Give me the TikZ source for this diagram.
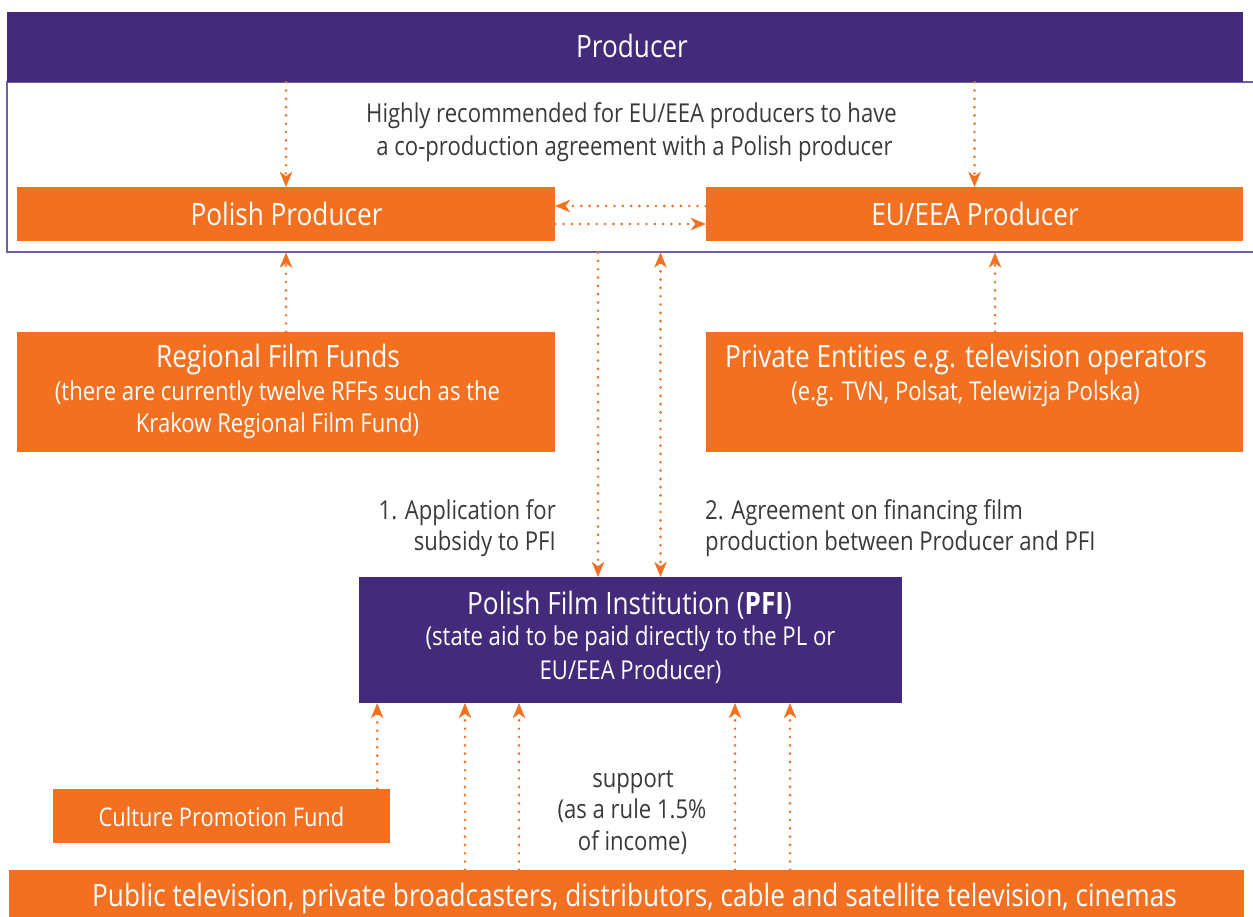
\documentclass[tikz,border=0pt]{standalone}
\usepackage{fontspec}
\setmainfont{Open Sans}[FakeStretch=0.85]
\usetikzlibrary{arrows.meta,calc}
\definecolor{pfpurple}{HTML}{432A7A}
\definecolor{pforange}{HTML}{F37021}
\definecolor{pftext}{HTML}{3A3A3A}
\definecolor{pfframe}{HTML}{6E5FA8}
\tikzset{
  obox/.style={fill=pforange, draw=none, inner sep=0pt},
  pbox/.style={fill=pfpurple, draw=none, inner sep=0pt},
  wt/.style={text=white, inner sep=0pt, anchor=base},
  dt/.style={text=pftext, inner sep=0pt, anchor=base},
  bigf/.style={font=\fontsize{30.8}{35}\selectfont},
  medf/.style={font=\fontsize{25.7}{30}\selectfont},
  smallf/.style={font=\fontsize{26}{30}\selectfont},
  flow/.style={draw=pforange, line width=2.9pt, line cap=round,
    dash pattern=on 0pt off 8.3pt},
  tipend/.style={-{Stealth[length=15pt,width=12.5pt,inset=4.5pt,line width=0.4pt]}},
  tipboth/.style={{Stealth[length=15pt,width=12.5pt,inset=4.5pt,line width=0.4pt]}-{Stealth[length=15pt,width=12.5pt,inset=4.5pt,line width=0.4pt]}}
}
\begin{document}
\begin{tikzpicture}[x=1pt,y=-1pt]
\path[use as bounding box, clip] (0,0) rectangle (1253,916);
\fill[white] (0,0) rectangle (1253,916);

% frame round the producers
\node[draw=pfframe, line width=1.3pt, inner sep=0pt, minimum width=1255pt, minimum height=170pt] (frame) at (634.5,167) {};

% boxes
\node[pbox, minimum width=1236pt, minimum height=70pt] (producer) at (625,47) {};
\node[obox, minimum width=538pt, minimum height=54pt] (polish) at (286,214) {};
\node[obox, minimum width=537pt, minimum height=54pt] (eu) at (974.5,214) {};
\node[obox, minimum width=538pt, minimum height=120pt] (rff) at (286,392) {};
\node[obox, minimum width=537pt, minimum height=120pt] (priv) at (974.5,392) {};
\node[pbox, minimum width=543pt, minimum height=126pt] (pfi) at (630.5,640) {};
\node[obox, minimum width=337pt, minimum height=54pt] (cpf) at (221.5,816) {};
\node[obox, minimum width=1235pt, minimum height=60pt] (bottom) at (626.5,900) {};

% texts
\node[wt, bigf] (tproducer) at (632,57) {Producer};
\node[dt, smallf] (trec1) at (631.5,122) {Highly recommended for EU/EEA producers to have};
\node[dt, smallf] (trec2) at (634.5,155) {a co-production agreement with a Polish producer};
\node[wt, bigf] (tpolish) at (286.5,225) {Polish Producer};
\node[wt, bigf] (teu) at (975,225) {EU/EEA Producer};
\node[wt, bigf] (trff1) at (278,367) {Regional Film Funds};
\node[wt, smallf] (trff2) at (277.5,400) {(there are currently twelve RFFs such as the};
\node[wt, smallf] (trff3) at (277.5,432) {Krakow Regional Film Fund)};
\node[wt, bigf] (tpriv1) at (966,367) {Private Entities e.g. television operators};
\node[wt, smallf] (tpriv2) at (965.5,400) {(e.g. TVN, Polsat, Telewizja Polska)};
\node[dt, smallf, anchor=base east] (tapp1) at (556,519) {1. Application for};
\node[dt, smallf, anchor=base east] (tapp2) at (556,550) {subsidy to PFI};
\node[dt, smallf, anchor=base west] (tagr1) at (705,519) {2. Agreement on financing film};
\node[dt, smallf, anchor=base west] (tagr2) at (705,550) {production between Producer and PFI};
\node[wt, bigf] (tpfi1) at (629.5,614) {Polish Film Institution (\textbf{PFI})};
\node[wt, smallf] (tpfi2) at (630.5,645) {(state aid to be paid directly to the PL or};
\node[wt, smallf] (tpfi3) at (630.5,679) {EU/EEA Producer)};
\node[wt, medf] (tcpf) at (221.5,826) {Culture Promotion Fund};
\node[dt, smallf] (tsup1) at (633,787) {support};
\node[dt, smallf] (tsup2) at (632,818) {(as a rule 1.5\%};
\node[dt, smallf] (tsup3) at (632.5,850) {of income)};
\node[wt, bigf] (tbottom) at (634.5,906) {Public television, private broadcasters, distributors, cable and satellite television, cinemas};

% connectors
\draw[flow, tipend] (producer.south -| polish.north) -- (polish.north);
\draw[flow, tipend] (producer.south -| eu.north) -- (eu.north);
\draw[flow, tipend] ([yshift=8pt]eu.west) -- ([yshift=8pt]polish.east);
\draw[flow, tipend] ([yshift=-10pt]polish.east) -- ([yshift=-10pt]eu.west);
\draw[flow, tipend] (rff.north) -- (rff.north |- frame.south);
\draw[flow, tipend] ([xshift=20.5pt]priv.north) -- ([xshift=20.5pt]priv.north |- frame.south);
\draw[flow, tipend] ([xshift=-32.5pt]pfi.north |- frame.south) -- ([xshift=-32.5pt]pfi.north);
\draw[flow, tipboth] ([xshift=30pt]pfi.north |- frame.south) -- ([xshift=30pt]pfi.north);
\draw[flow, tipend] ([xshift=-13pt]cpf.north east) -- ([xshift=-13pt]cpf.north east |- pfi.south);
\draw[flow, tipend] ([xshift=-165.5pt]pfi.south |- bottom.north) -- ([xshift=-165.5pt]pfi.south);
\draw[flow, tipend] ([xshift=-111.5pt]pfi.south |- bottom.north) -- ([xshift=-111.5pt]pfi.south);
\draw[flow, tipend] ([xshift=104.5pt]pfi.south |- bottom.north) -- ([xshift=104.5pt]pfi.south);
\draw[flow, tipend] ([xshift=159.5pt]pfi.south |- bottom.north) -- ([xshift=159.5pt]pfi.south);
\end{tikzpicture}
\end{document}
